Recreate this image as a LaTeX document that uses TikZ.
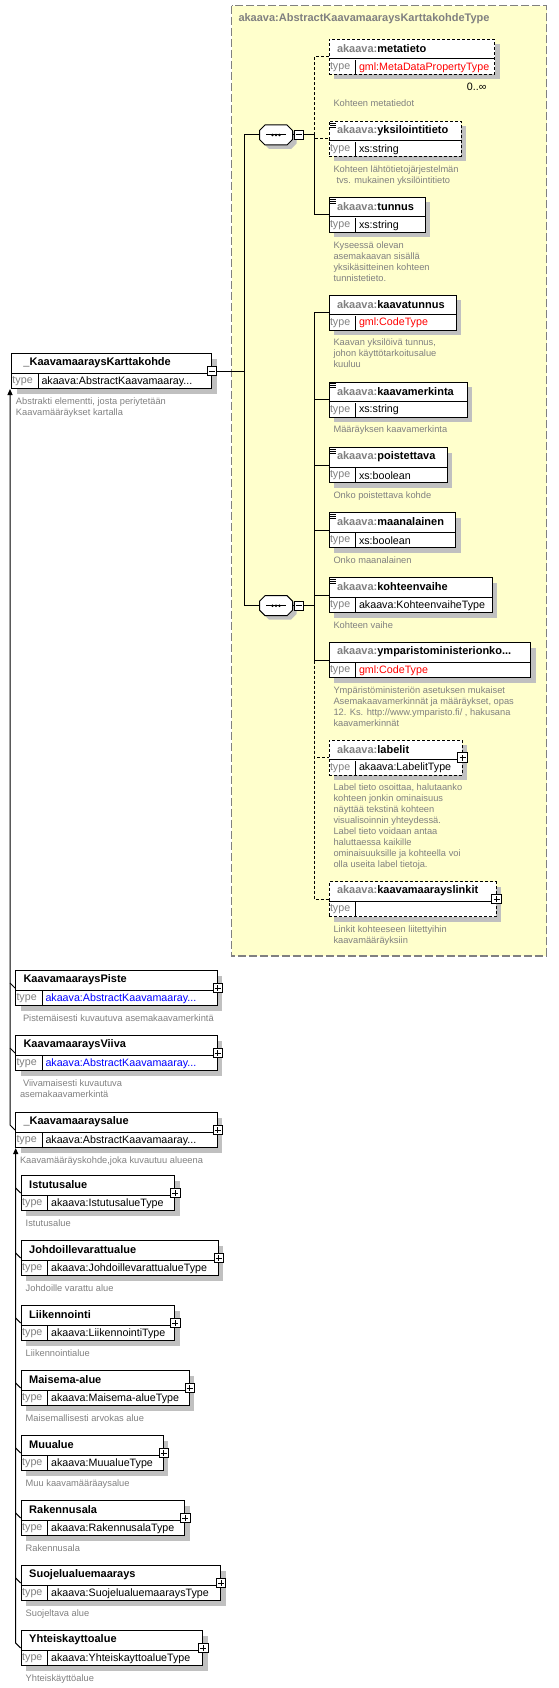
\documentclass[tikz,border=0pt]{standalone}
\usepackage{fontspec}
\setmainfont{Liberation Sans}
\usetikzlibrary{arrows.meta,shadows}
\definecolor{xsyellow}{RGB}{255,255,204}
\definecolor{xsgray}{RGB}{128,128,128}
\definecolor{xsshadow}{RGB}{192,192,192}
\definecolor{xsred}{RGB}{255,0,0}
\definecolor{xsblue}{RGB}{0,0,255}
\newcommand{\nmfont}{\fontsize{11}{13}\selectfont\bfseries}
\newcommand{\tyfont}{\fontsize{10.7}{13}\selectfont}
\newcommand{\dsfont}{\fontsize{9.3}{11}\selectfont}
\newcommand{\pre}[1]{{\color{xsgray}akaava:}#1}
\newcommand{\tyred}[1]{\textcolor{xsred}{#1}}
\newcommand{\tyblue}[1]{\textcolor{xsblue}{#1}}
% element box: [extra keys]{name}{x,y}{width}{title}{type}
\newcommand{\xelem}[6][]{%
  \node[elem,minimum width=#4pt,#1] (#2) at (#3) {};
  \draw ([yshift=-20pt]#2.north west) -- ([yshift=-20pt]#2.north east);
  \draw ([xshift=27pt]#2.south west) -- ([xshift=27pt,yshift=15pt]#2.south west);
  \node[txt,font=\nmfont] (#2-n) at ([xshift=8pt,yshift=-10pt]#2.north west) {#5};
  \node[txt,font=\tyfont,text=xsgray] (#2-l) at ([xshift=1pt,yshift=7.5pt]#2.south west) {type};
  \node[txt,font=\tyfont] (#2-t) at ([xshift=30pt,yshift=7.5pt]#2.south west) {#6};
}
\newcommand{\xplus}[1]{%
  \node[pm] (#1-p) at ([yshift=-18pt]#1.north east) {};
  \draw ([xshift=-3pt]#1-p.center) -- ([xshift=3pt]#1-p.center)
        ([yshift=-3pt]#1-p.center) -- ([yshift=3pt]#1-p.center);
}
\newcommand{\xminus}[2]{%
  \node[pm] (#1) at (#2) {};
  \draw ([xshift=-3pt]#1.center) -- ([xshift=3pt]#1.center);
}
\newcommand{\xicon}[1]{%
  \draw[line width=.7pt] \foreach \k in {2,4,6} {([xshift=1.5pt,yshift=-\k pt]#1.north west) -- ++(6pt,0pt)};
}
\newcommand{\xdesc}[2]{%
  \node[dsc] (#1-d) at ([xshift=4.5pt,yshift=-8pt]#1.south west) {#2};
}
\newcommand{\octo}{(-11,-10) -- (11,-10) -- (16.5,-4.5) -- (16.5,4.5) -- (11,10) -- (-11,10) -- (-16.5,4.5) -- (-16.5,-4.5) -- cycle}
% sequence compositor: {name}{x,y}
\newcommand{\xseq}[2]{%
  \node[seq] (#1) at (#2) {};
  \begin{scope}[shift={(#2)}]
    \fill[xsshadow,shift={(4,4)}] \octo;
    \filldraw[fill=white] \octo;
  \end{scope}
  \draw ([xshift=-10pt]#1.center) -- ([xshift=10pt]#1.center);
  \foreach \dx in {-3.5,0,3.5} \fill ([xshift=\dx pt]#1.center) circle (1.4pt);
  \xminus{#1-m}{[xshift=22.7pt]#1.center}
  \draw (#1.east) -- (#1-m.west);
}

\begin{document}
\begin{tikzpicture}[x=1pt,y=-1pt,line width=1pt,
    elem/.style={draw,fill=white,anchor=north west,minimum height=35pt,inner sep=0pt,
      drop shadow={shadow xshift=5pt,shadow yshift=-5pt,opacity=1,fill=xsshadow}},
    optl/.style={dash pattern=on 3pt off 2pt},
    pm/.style={draw,fill=white,minimum size=9.5pt,inner sep=0pt,line width=.8pt},
    seq/.style={minimum width=33pt,minimum height=20pt,inner sep=0pt},
    txt/.style={anchor=west,inner sep=0pt},
    dsc/.style={anchor=north west,align=left,inner sep=0pt,font=\dsfont,text=xsgray},
    inh/.style={-{Triangle[width=5pt,length=6pt]}},
    ctype/.style={draw=xsgray,fill=xsyellow,line width=1.3pt,dash pattern=on 8pt off 3pt}]
  \useasboundingbox (0,0) rectangle (558,1688);

  % complex type
  \draw[ctype] (231.7,5.7) rectangle (546.7,956);
  \node[txt,font=\nmfont,text=xsgray] (ctitle) at (238,19) {akaava:AbstractKaavamaaraysKarttakohdeType};

  % main element
  \xelem{main}{11,353}{200}{\hspace*{4pt}\_KaavamaaraysKarttakohde}{akaava:AbstractKaavamaaray...}
  \xminus{main-m}{[yshift=-18pt]main.north east}
  \xdesc{main}{Abstrakti elementti, josta periytetään\\Kaavamääräykset kartalla}

  % sequences
  \xseq{seqA}{276,135}
  \xseq{seqB}{276,605.7}
  \coordinate (busA) at (244,0);
  \coordinate (busB) at (314,0);
  \draw (main-m.east) -- (main-m.east -| busA);
  \draw (seqA.west) -| (busA |- main-m.east);
  \draw (seqB.west) -| (busA |- main-m.east);

  % first sequence
  \xelem[optl]{meta}{328.5,39}{165.5}{\pre{metatieto}}{\tyred{gml:MetaDataPropertyType}}
  \node[txt,font=\tyfont,anchor=east] (meta-c) at (487,87) {0..∞};
  \node[dsc] (meta-d) at ([xshift=4.5pt,yshift=-24pt]meta.south west) {Kohteen metatiedot};
  \xelem[optl]{yksi}{328.5,121}{132}{\pre{yksilointitieto}}{xs:string}
  \xicon{yksi}
  \xdesc{yksi}{Kohteen lähtötietojärjestelmän\\\hspace*{3pt}tvs. mukainen yksilöintitieto}
  \xelem{tunnus}{328.5,197}{96}{\pre{tunnus}}{xs:string}
  \xicon{tunnus}
  \xdesc{tunnus}{Kyseessä olevan\\asemakaavan sisällä\\yksikäsitteinen kohteen\\tunnistetieto.}
  \draw (seqA-m.east) -- (seqA-m.east -| busB);
  \draw[optl] (seqA-m.east -| busB) |- (meta.west);
  \draw[optl] (seqA-m.east -| busB) |- (yksi.west);
  \draw (seqA-m.east -| busB) |- (tunnus.west);

  % second sequence
  \xelem{ktun}{328.5,294.5}{127}{\pre{kaavatunnus}}{\tyred{gml:CodeType}}
  \xdesc{ktun}{Kaavan yksilöivä tunnus,\\johon käyttötarkoitusalue\\kuuluu}
  \xelem{kmer}{328.5,381.5}{138}{\pre{kaavamerkinta}}{xs:string}
  \xicon{kmer}
  \xdesc{kmer}{Määräyksen kaavamerkinta}
  \xelem{pois}{328.5,447}{118}{\pre{poistettava}}{xs:boolean}
  \xicon{pois}
  \xdesc{pois}{Onko poistettava kohde}
  \xelem{maan}{328.5,512}{126.5}{\pre{maanalainen}}{xs:boolean}
  \xicon{maan}
  \xdesc{maan}{Onko maanalainen}
  \xelem{kvai}{328.5,577}{163}{\pre{kohteenvaihe}}{akaava:KohteenvaiheType}
  \xicon{kvai}
  \xdesc{kvai}{Kohteen vaihe}
  \xelem{ymin}{328.5,642}{201.5}{\pre{ymparistoministerionko...}}{\tyred{gml:CodeType}}
  \xdesc{ymin}{Ympäristöministeriön asetuksen mukaiset\\Asemakaavamerkinnät ja määräykset, opas\\12. Ks. http://www.ymparisto.fi/ , hakusana\\kaavamerkinnät}
  \xelem[optl]{labe}{328.5,739.5}{133}{\pre{labelit}}{akaava:LabelitType}
  \xplus{labe}
  \xdesc{labe}{Label tieto osoittaa, halutaanko\\kohteen jonkin ominaisuus\\näyttää tekstinä kohteen\\visualisoinnin yhteydessä.\\Label tieto voidaan antaa\\haluttaessa kaikille\\ominaisuuksille ja kohteella voi\\olla useita label tietoja.}
  \xelem[optl]{link}{328.5,881}{167}{\pre{kaavamaarayslinkit}}{}
  \xplus{link}
  \xdesc{link}{Linkit kohteeseen liitettyihin\\kaavamääräyksiin}
  \draw (seqB-m.east) -- (seqB-m.east -| busB);
  \foreach \c in {ktun,kmer,pois,maan,kvai,ymin}
    \draw (seqB-m.east -| busB) |- (\c.west);
  \draw[optl] (seqB-m.east -| busB) |- (labe.west);
  \draw[optl] (seqB-m.east -| busB) |- (link.west);

  % derived elements
  \xelem{pist}{15,970}{201.7}{KaavamaaraysPiste}{\tyblue{akaava:AbstractKaavamaaray...}}
  \xplus{pist}
  \xdesc{pist}{\hspace*{3pt}Pistemäisesti kuvautuva asemakaavamerkintä}
  \xelem{viiv}{15,1035}{201.7}{KaavamaaraysViiva}{\tyblue{akaava:AbstractKaavamaaray...}}
  \xplus{viiv}
  \xdesc{viiv}{\hspace*{3pt}Viivamaisesti kuvautuva\\asemakaavamerkintä}
  \xelem{alue}{15,1112}{201.7}{\_Kaavamaaraysalue}{akaava:AbstractKaavamaaray...}
  \xplus{alue}
  \xdesc{alue}{Kaavamääräyskohde,joka kuvautuu alueena}
  \draw (pist.west) -- ++(-5,-5);
  \draw (viiv.west) -- ++(-5,-5);
  \draw[inh] (alue.west) -- ++(-5,-5) coordinate (tA) -- (tA |- main.south);

  % area elements
  \xelem{istu}{20.7,1175}{153.6}{Istutusalue}{akaava:IstutusalueType}
  \xplus{istu}
  \xdesc{istu}{Istutusalue}
  \xelem{johd}{20.7,1240}{197}{Johdoillevarattualue}{akaava:JohdoillevarattualueType}
  \xplus{johd}
  \xdesc{johd}{Johdoille varattu alue}
  \xelem{liik}{20.7,1305}{153.6}{Liikennointi}{akaava:LiikennointiType}
  \xplus{liik}
  \xdesc{liik}{Liikennointialue}
  \xelem{mais}{20.7,1370}{168}{Maisema-alue}{akaava:Maisema-alueType}
  \xplus{mais}
  \xdesc{mais}{Maisemallisesti arvokas alue}
  \xelem{muua}{20.7,1435}{142}{Muualue}{akaava:MuualueType}
  \xplus{muua}
  \xdesc{muua}{Muu kaavamääräaysalue}
  \xelem{rake}{20.7,1500}{163.6}{Rakennusala}{akaava:RakennusalaType}
  \xplus{rake}
  \xdesc{rake}{Rakennusala}
  \xelem{suoj}{20.7,1565}{199.3}{Suojelualuemaarays}{akaava:SuojelualuemaaraysType}
  \xplus{suoj}
  \xdesc{suoj}{Suojeltava alue}
  \xelem{yhte}{20.7,1630}{181.6}{Yhteiskayttoalue}{akaava:YhteiskayttoalueType}
  \xplus{yhte}
  \xdesc{yhte}{Yhteiskäyttöalue}
  \foreach \c in {istu,johd,liik,mais,muua,rake,suoj}
    \draw (\c.west) -- ++(-5,-5);
  \draw[inh] (yhte.west) -- ++(-5,-5) coordinate (tB) -- (tB |- alue.south);
\end{tikzpicture}
\end{document}
